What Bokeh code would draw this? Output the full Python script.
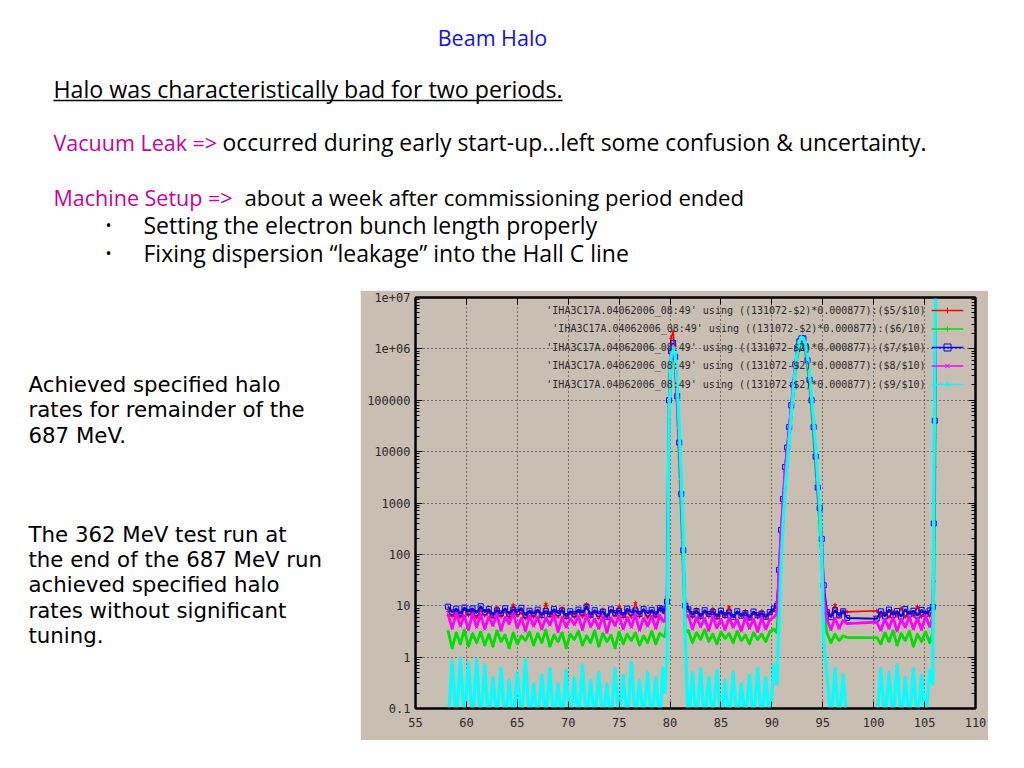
from bokeh.plotting import figure
from bokeh.layouts import column, row
from bokeh.models import Range1d, FixedTicker, LogAxis, LinearAxis, CustomJSTickFormatter, ColumnDataSource
from bokeh.core.properties import value
from bokeh.embed import file_html
from bokeh.resources import INLINE

# ---------------- data ----------------
X = [
    58.2, 58.6, 59.0, 59.4, 59.8, 60.2, 60.6, 61.0, 61.4, 61.8,
    62.2, 62.6, 63.0, 63.4, 63.8, 64.2, 64.6, 65.0, 65.4, 65.8,
    66.2, 66.6, 67.0, 67.4, 67.8, 68.2, 68.6, 69.0, 69.4, 69.8,
    70.2, 70.6, 71.0, 71.4, 71.8, 72.2, 72.6, 73.0, 73.4, 73.8,
    74.2, 74.6, 75.0, 75.4, 75.8, 76.2, 76.6, 77.0, 77.4, 77.8,
    78.2, 78.6, 79.0, 79.3,
    79.5, 79.7, 79.9, 80.1, 80.3, 80.5, 80.7, 80.9, 81.1, 81.3, 81.5,
    81.8, 82.2, 82.6, 83.0, 83.4, 83.8, 84.2, 84.6, 85.0, 85.4,
    85.8, 86.2, 86.6, 87.0, 87.4, 87.8, 88.2, 88.6, 89.0, 89.4,
    89.8, 90.2,
    90.5, 90.7, 90.9, 91.1, 91.3, 91.5, 91.7, 91.9, 92.1, 92.3,
    92.5, 92.7, 92.9, 93.1, 93.3, 93.5, 93.7, 93.9, 94.1, 94.3,
    94.5, 94.7, 94.9, 95.1,
    95.4, 95.8, 96.2, 96.6, 97.0, 97.4,
    100.3, 100.7, 101.1, 101.5, 101.9, 102.3, 102.7, 103.1, 103.5, 103.9,
    104.3, 104.7, 105.1, 105.5, 105.8,
    105.9, 106.0, 106.1,
]

RED = [  # $5/$10
    7.8, 6.2, 8.4, 6.0, 8.9, 6.5, 7.6, 5.9, 8.2, 6.4,
    7.5, 5.8, 9.4, 6.1, 7.9, 5.7, 10.5, 6.3, 7.4, 5.6,
    7.8, 6.0, 8.1, 5.9, 11.0, 6.2, 7.7, 6.0, 9.0, 5.8,
    7.3, 5.9, 8.0, 6.1, 10.8, 6.0, 7.6, 5.7, 8.4, 5.8,
    7.9, 6.2, 9.8, 5.9, 7.5, 6.0, 11.5, 6.1, 8.2, 5.8,
    7.7, 6.0, 9.2, 8.0,
    7.0, 15, 2.0e5, 1.6e6, 2.2e6, 8.0e5, 1.0e5, 1.2e4, 1000, 80, 8.0,
    9.0, 6.0, 8.5, 5.8, 7.6, 6.1, 8.8, 5.7, 7.3, 6.0,
    9.5, 5.9, 7.4, 6.2, 8.0, 5.6, 7.2, 6.0, 7.9, 5.8,
    7.1, 8.0,
    12, 40, 250, 1000, 4000, 1.0e4, 2.8e4, 7.0e4, 1.8e5, 4.5e5,
    9.0e5, 1.3e6, 1.5e6, 1.5e6, 1.0e6, 5.5e5, 2.3e5, 9.0e4, 3.0e4, 9000,
    2500, 700, 150, 20,
    8.5, 6.5, 10.5, 6.2, 8.0, 7.6,
    8.0, 6.2, 7.4, 5.9, 7.8, 6.3, 9.0, 6.0, 7.5, 6.4,
    9.6, 6.1, 7.7, 6.3, 8.0,
    30, 5000, 3.0e7,
]

GREEN = [  # $6/10
    3.2, 1.5, 3.0, 1.8, 3.4, 1.6, 2.9, 1.9, 3.1, 1.7,
    2.8, 1.6, 3.3, 2.0, 2.7, 1.5, 3.0, 1.8, 2.6, 2.1,
    3.1, 1.7, 2.9, 1.9, 3.4, 1.6, 2.7, 2.0, 3.0, 1.5,
    2.8, 2.2, 3.2, 1.7, 2.6, 1.9, 3.3, 1.6, 2.9, 2.0,
    2.7, 1.5, 3.1, 1.8, 2.8, 2.1, 3.0, 1.7, 2.6, 1.9,
    3.2, 1.8, 2.9, 2.6,
    2.5, 5.0, 4.0e4, 5.0e5, 9.0e5, 5.0e5, 8.0e4, 8000, 700, 50, 3.0,
    3.3, 1.9, 3.0, 2.2, 3.4, 2.0, 2.8, 1.8, 3.1, 2.3,
    2.9, 1.9, 3.2, 2.1, 2.7, 1.8, 3.0, 2.2, 2.8, 2.0,
    3.1, 3.5,
    3.0, 15, 100, 500, 2000, 6000, 1.8e4, 5.0e4, 1.3e5, 3.5e5,
    7.0e5, 1.1e6, 1.3e6, 1.3e6, 9.0e5, 4.5e5, 2.0e5, 7.0e4, 2.0e4, 5000,
    1500, 400, 80, 8.0,
    3.0, 1.9, 2.8, 2.1, 2.6, 2.4,
    2.4, 1.8, 3.0, 2.0, 3.3, 1.7, 2.9, 2.1, 3.2, 1.6,
    2.8, 2.0, 3.1, 1.9, 3.0,
    20, 3000, 3.0e7,
]

BLUE = [  # $7/$10
    9.6, 7.4, 8.8, 7.0, 9.2, 7.6, 8.9, 7.2, 9.8, 7.5,
    8.6, 6.6, 8.1, 7.1, 8.9, 6.9, 8.4, 7.6, 9.1, 6.5,
    8.0, 7.0, 8.4, 6.6, 7.9, 6.8, 8.6, 7.2, 8.1, 6.3,
    7.8, 6.9, 8.4, 7.3, 9.6, 6.7, 8.2, 7.0, 7.7, 6.1,
    8.5, 7.2, 8.0, 6.6, 8.8, 7.4, 8.1, 6.9, 8.6, 7.1,
    8.3, 6.8, 9.0, 8.5,
    8.0, 12, 1.0e5, 9.0e5, 1.3e6, 7.0e5, 1.2e5, 1.5e4, 1500, 120, 10,
    8.5, 6.8, 7.9, 6.3, 8.2, 6.9, 7.6, 6.2, 8.0, 6.6,
    7.4, 6.0, 7.8, 6.4, 7.2, 5.9, 7.7, 6.5, 7.0, 6.1,
    7.5, 8.8,
    10, 50, 300, 1200, 5000, 1.2e4, 3.0e4, 8.0e4, 2.0e5, 5.0e5,
    1.0e6, 1.4e6, 1.6e6, 1.6e6, 1.1e6, 6.0e5, 2.5e5, 1.0e5, 3.0e4, 8000,
    2000, 800, 200, 25,
    7.5, 6.0, 8.2, 6.5, 7.8, 5.8,
    5.6, 7.8, 6.2, 8.4, 6.6, 7.9, 6.1, 8.6, 6.8, 8.0,
    6.4, 8.3, 6.9, 8.1, 9.5,
    400, 4.0e4, 3.0e7,
]

MAGENTA = [  # $8/$10
    6.8, 3.6, 7.2, 4.0, 6.5, 3.4, 7.0, 3.8, 6.9, 3.5,
    6.2, 4.1, 6.8, 3.3, 6.0, 4.4, 7.1, 3.7, 5.8, 3.2,
    6.4, 4.0, 6.1, 3.5, 5.9, 4.2, 6.6, 3.1, 6.0, 3.8,
    5.7, 4.3, 6.3, 3.4, 6.8, 3.9, 5.6, 3.6, 6.2, 3.0,
    5.9, 4.1, 6.5, 3.5, 6.0, 3.8, 6.7, 3.3, 5.8, 4.0,
    6.3, 3.6, 6.6, 5.0,
    5.0, 10, 8.0e4, 8.0e5, 1.2e6, 6.0e5, 1.0e5, 1.3e4, 1200, 100, 6.0,
    6.5, 3.5, 6.0, 3.9, 5.7, 3.3, 6.2, 3.7, 5.5, 3.4,
    5.9, 3.8, 5.4, 3.2, 6.0, 3.6, 5.6, 3.1, 5.8, 3.5,
    5.3, 6.0,
    7.0, 45, 280, 1100, 4500, 1.1e4, 2.9e4, 7.5e4, 1.9e5, 4.8e5,
    9.5e5, 1.35e6, 1.55e6, 1.55e6, 1.05e6, 5.8e5, 2.4e5, 9.5e4, 2.8e4, 7500,
    1800, 700, 170, 15,
    5.5, 3.4, 5.8, 3.6, 5.2, 4.5,
    4.8, 3.3, 5.6, 3.6, 6.0, 3.2, 5.5, 3.8, 6.2, 3.5,
    5.8, 3.4, 6.4, 3.9, 6.0,
    200, 2.0e4, 3.0e7,
]

CYAN = [  # $9/$10
    0.05, 0.85, 0.05, 0.95, 0.06, 0.8, 0.05, 0.9, 0.05, 0.7,
    0.05, 0.4, 0.06, 0.6, 0.05, 0.35, 0.05, 0.5, 0.05, 0.9,
    0.05, 0.3, 0.05, 0.45, 0.06, 0.6, 0.05, 0.3, 0.05, 0.55,
    0.05, 0.4, 0.05, 0.7, 0.05, 0.35, 0.06, 0.5, 0.05, 0.3,
    0.05, 0.6, 0.05, 0.45, 0.05, 0.8, 0.05, 0.35, 0.06, 0.5,
    0.05, 0.4, 0.05, 0.6,
    0.2, 1.0, 5.0e4, 7.0e5, 1.1e6, 8.0e5, 2.0e5, 3.0e4, 3000, 200, 2.0,
    0.05, 0.5, 0.05, 0.6, 0.05, 0.4, 0.06, 0.55, 0.05, 0.35,
    0.05, 0.5, 0.05, 0.3, 0.06, 0.45, 0.05, 0.6, 0.05, 0.4,
    0.05, 0.7,
    0.3, 5.0, 60, 400, 1800, 6000, 1.8e4, 5.0e4, 1.5e5, 4.0e5,
    9.0e5, 1.4e6, 1.7e6, 1.6e6, 1.2e6, 7.0e5, 3.0e5, 1.2e5, 4.0e4, 1.2e4,
    3000, 900, 100, 2.0,
    0.5, 0.05, 0.6, 0.05, 0.45, 0.05,
    0.05, 0.6, 0.05, 0.5, 0.06, 0.7, 0.05, 0.4, 0.05, 0.6,
    0.05, 0.45, 0.06, 0.55, 0.3,
    1000, 2.0e5, 3.0e7,
]

LEGEND_LABELS = [
    "'IHA3C17A.04062006_08:49' using ((131072-$2)*0.000877):($5/$10)",
    "'IHA3C17A.04062006_08:49' using ((131072-$2)*0.000877):($6/10)",
    "'IHA3C17A.04062006_08:49' using ((131072-$2)*0.000877):($7/$10)",
    "'IHA3C17A.04062006_08:49' using ((131072-$2)*0.000877):($8/$10)",
    "'IHA3C17A.04062006_08:49' using ((131072-$2)*0.000877):($9/$10)",
]

X_TICKS = [55, 60, 65, 70, 75, 80, 85, 90, 95, 100, 105, 110]
Y_TICKS = [0.1, 1, 10, 100, 1000, 10000, 100000, 1e6, 1e7]

TITLE = "Beam Halo"
HEADLINE = "Halo was characteristically bad for two periods."
VAC_KEY = "Vacuum Leak =>"
VAC_TEXT = "occurred during early start-up...left some confusion & uncertainty."
MACH_KEY = "Machine Setup =>"
MACH_TEXT = "about a week after commissioning period ended"
BULLETS = ["Setting the electron bunch length properly",
           "Fixing dispersion \u201cleakage\u201d into the Hall C line"]
LEFT_LINES_1 = ["Achieved specified halo", "rates for remainder of the", "687 MeV."]
LEFT_LINES_2 = ["The 362 MeV test run at", "the end of the 687 MeV run",
                "achieved specified halo", "rates without significant", "tuning."]

# ---------------- styling ----------------
BG = "#c9beb2"
MAG = "#cc0099"
SLIDE_FONT = "Open Sans"
LEFT_FONT = "DejaVu Sans"
MONO = "DejaVu Sans Mono"

# ---------------- top text panel ----------------
top = figure(width=1008, height=290, x_range=Range1d(0, 1008), y_range=Range1d(290, 0),
             output_backend="svg", toolbar_location=None, min_border=0,
             x_axis_location=None, y_axis_location=None)
top.grid.visible = False
top.outline_line_color = None

def txt(fig, x, y, s, color="black", size="21.5px", font=SLIDE_FONT, align="left"):
    fig.text(x=[x], y=[y], text=[s], text_color=color, text_font_size=size,
             text_font=value(font), text_align=align, text_baseline="middle")

txt(top, 492, 37, TITLE, color="#1010f0", align="center")
txt(top, 53, 88, HEADLINE, size="23.2px")
top.segment(x0=[53], y0=[100], x1=[562], y1=[100], line_color="black", line_width=1.5)
txt(top, 53, 142, VAC_KEY, color=MAG)
txt(top, 222, 142, VAC_TEXT, size="22.9px")
txt(top, 53, 197, MACH_KEY, color=MAG)
txt(top, 244, 197, MACH_TEXT, size="22.2px")
for i, b in enumerate(BULLETS):
    yy = 224 + 28 * i
    txt(top, 105, yy, "\u2022", size="16px")
    txt(top, 143, yy, b, size="23px")

# ---------------- left text panel ----------------
left = figure(width=360, height=450, x_range=Range1d(0, 360), y_range=Range1d(740, 290),
              output_backend="svg", toolbar_location=None, min_border=0,
              x_axis_location=None, y_axis_location=None)
left.grid.visible = False
left.outline_line_color = None
for i, s in enumerate(LEFT_LINES_1):
    txt(left, 28, 385 + 28 * i, s, size="21.3px", font=LEFT_FONT)
for i, s in enumerate(LEFT_LINES_2):
    txt(left, 28, 549 + 27.8 * i, s, size="21.3px", font=LEFT_FONT)

# ---------------- gnuplot-like chart ----------------
p = figure(width=628, height=450, x_range=Range1d(55, 110), y_range=Range1d(0.1, 1e7),
           y_axis_type="log", output_backend="svg", toolbar_location=None,
           min_border_left=55, min_border_right=13, min_border_top=7, min_border_bottom=32,
           background_fill_color=BG, border_fill_color=BG)
p.outline_line_color = "black"
p.outline_line_width = 2

minor_y = [m * 10.0 ** e for e in range(-1, 7) for m in range(2, 10)]
p.xaxis.ticker = FixedTicker(ticks=X_TICKS, minor_ticks=[])
p.yaxis.ticker = FixedTicker(ticks=Y_TICKS, minor_ticks=minor_y)
p.yaxis.formatter = CustomJSTickFormatter(code="""
const e = Math.round(Math.log10(tick));
if (e >= 6) { return "1e+0" + e; }
if (e < 0) { return "0.1"; }
return String(Math.round(Math.pow(10, e)));
""")

for ax in [p.xaxis[0], p.yaxis[0]]:
    ax.axis_line_color = "black"
    ax.axis_line_width = 2
    ax.major_tick_in = 7
    ax.major_tick_out = 0
    ax.minor_tick_in = 4
    ax.minor_tick_out = 0
    ax.major_tick_line_color = "black"
    ax.minor_tick_line_color = "black"
    ax.major_label_text_font = MONO
    ax.major_label_text_font_size = "12px"
    ax.major_label_text_color = "#2a2a2a"
p.xaxis.major_label_standoff = 9
p.yaxis.major_label_standoff = 5

blank = CustomJSTickFormatter(code="return '';")
top_ax = LinearAxis(ticker=FixedTicker(ticks=X_TICKS, minor_ticks=[]), formatter=blank)
right_ax = LogAxis(ticker=FixedTicker(ticks=Y_TICKS, minor_ticks=minor_y), formatter=blank)
for ax in [top_ax, right_ax]:
    ax.axis_line_color = "black"
    ax.axis_line_width = 2
    ax.major_tick_in = 7
    ax.major_tick_out = 0
    ax.minor_tick_in = 4
    ax.minor_tick_out = 0
    ax.major_label_standoff = 0
p.add_layout(top_ax, "above")
p.add_layout(right_ax, "right")

for g in [p.xgrid[0], p.ygrid[0]]:
    g.grid_line_color = "black"
    g.grid_line_dash = "1 3"
    g.grid_line_width = 1
    g.grid_line_alpha = 0.85

series = [
    (RED, "#ff0000", "cross", 4, 1.6),
    (GREEN, "#00e000", "cross", 3, 2.8),
    (BLUE, "#0000ff", "square", 5, 2.0),
    (MAGENTA, "#ff00ff", "x", 4, 2.8),
    (CYAN, "#00ffff", "triangle", 3, 3.2),
]
for vals, col, mk, sz, lw in series:
    n = min(len(X), len(vals))
    src = ColumnDataSource(dict(x=X[:n], y=vals[:n]))
    p.line("x", "y", source=src, line_color=col, line_width=lw)
    p.scatter("x", "y", source=src, marker=mk, size=sz, line_color=col, fill_color=None, line_width=1)

# key (gnuplot style: text then sample)
for i, (lab, (vals, col, mk, sz, lw)) in enumerate(zip(LEGEND_LABELS, series)):
    ly = 10 ** (6.747 - 0.36 * i)
    p.text(x=[105.1], y=[ly], text=[lab], text_align="right", text_baseline="middle",
           text_font=value(MONO), text_font_size="10px", text_color="#2a2a2a")
    p.segment(x0=[105.7], y0=[ly], x1=[108.8], y1=[ly], line_color=col, line_width=1.3)
    p.scatter(x=[107.25], y=[ly], marker=mk, size=sz + 2, line_color=col, fill_color=None)

layout = column(top, row(left, p))
open("out.html", "w").write(file_html(layout, INLINE))
